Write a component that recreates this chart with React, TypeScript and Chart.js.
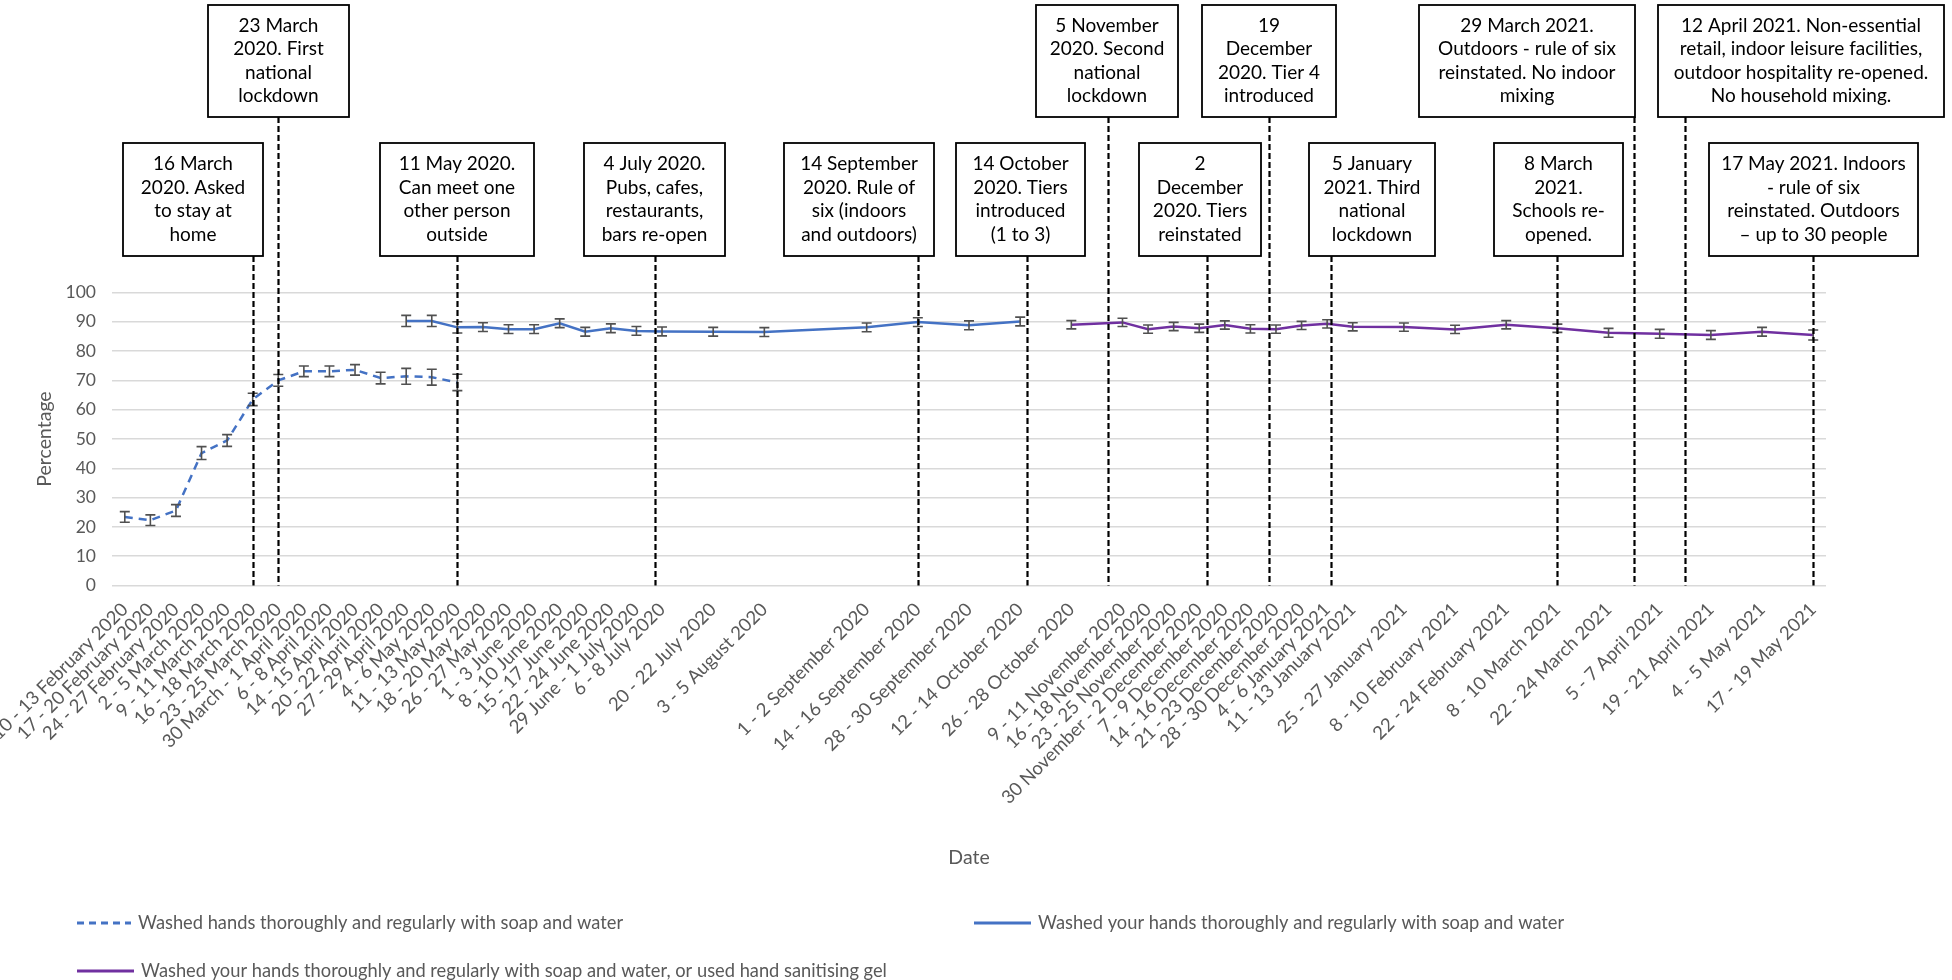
import React, { useEffect, useRef } from 'react';
import { Chart, registerables } from 'chart.js';

Chart.register(...registerables);
Chart.defaults.font.family = 'Lato, "Open Sans", sans-serif';

// ---------- DATA ----------
const xLabels: string[] = [
  '10 - 13 February 2020', '17 - 20 February 2020', '24 - 27 February 2020', '2 - 5 March 2020',
  '9 - 11 March 2020', '16 - 18 March 2020', '23 - 25 March 2020', '30 March - 1 April 2020',
  '6 - 8 April 2020', '14 - 15 April 2020', '20 - 22 April 2020', '27 - 29 April 2020',
  '4 - 6 May 2020', '11 - 13 May 2020', '18 - 20 May 2020', '26 - 27 May 2020',
  '1 - 3 June 2020', '8 - 10 June 2020', '15 - 17 June 2020', '22 - 24 June 2020',
  '29 June - 1 July 2020', '6 - 8 July 2020', '20 - 22 July 2020', '3 - 5 August 2020',
  '1 - 2 September 2020', '14 - 16 September 2020', '28 - 30 September 2020', '12 - 14 October 2020',
  '26 - 28 October 2020', '9 - 11 November 2020', '16 - 18 November 2020', '23 - 25 November 2020',
  '30 November - 2 December 2020', '7 - 9 December 2020', '14 - 16 December 2020', '21 - 23 December 2020',
  '28 - 30 December 2020', '4 - 6 January 2021', '11 - 13 January 2021', '25 - 27 January 2021',
  '8 - 10 February 2021', '22 - 24 February 2021', '8 - 10 March 2021', '22 - 24 March 2021',
  '5 - 7 April 2021', '19 - 21 April 2021', '4 - 5 May 2021', '17 - 19 May 2021',
];

// x value of each survey wave: weeks since the week of 10 February 2020
const weekIndex: number[] = [
  0, 1, 2, 3, 4, 5, 6, 7, 8, 9, 10, 11, 12, 13, 14, 15, 16, 17, 18, 19, 20, 21,
  23, 25, 29, 31, 33, 35, 37, 39, 40, 41, 42, 43, 44, 45, 46, 47, 48,
  50, 52, 54, 56, 58, 60, 62, 64, 66,
];

const N = null;
const seriesNames: string[] = [
  'Washed hands thoroughly and regularly with soap and water',
  'Washed your hands thoroughly and regularly with soap and water',
  'Washed your hands thoroughly and regularly with soap and water, or used hand sanitising gel',
];

const washedHands: (number | null)[] = [
  23.4, 22.3, 25.6, 45.2, 49.5, 63.5, 70.0, 73.1, 73.1, 73.6, 70.8, 71.4, 71.1, 69.3,
  N, N, N, N, N, N, N, N, N, N, N, N, N, N, N, N, N, N, N, N, N, N, N, N, N, N, N, N, N, N, N, N, N, N,
];
const washedHandsErr: (number | null)[] = [
  1.8, 1.8, 2.0, 2.2, 2.0, 2.1, 2.0, 1.8, 1.8, 1.8, 2.0, 2.7, 2.7, 2.8,
  N, N, N, N, N, N, N, N, N, N, N, N, N, N, N, N, N, N, N, N, N, N, N, N, N, N, N, N, N, N, N, N, N, N,
];

const washedYourHands: (number | null)[] = [
  N, N, N, N, N, N, N, N, N, N, N,
  90.3, 90.3, 88.1, 88.2, 87.5, 87.5, 89.5, 86.6, 87.8, 86.9, 86.7, 86.6, 86.5, 88.1, 89.9, 88.8, 90.1,
  N, N, N, N, N, N, N, N, N, N, N, N, N, N, N, N, N, N, N, N,
];
const washedYourHandsErr: (number | null)[] = [
  N, N, N, N, N, N, N, N, N, N, N,
  1.9, 1.9, 1.9, 1.5, 1.5, 1.5, 1.5, 1.5, 1.5, 1.5, 1.5, 1.5, 1.5, 1.5, 1.5, 1.5, 1.5,
  N, N, N, N, N, N, N, N, N, N, N, N, N, N, N, N, N, N, N, N,
];

const washedOrGel: (number | null)[] = [
  N, N, N, N, N, N, N, N, N, N, N, N, N, N, N, N, N, N, N, N, N, N, N, N, N, N, N, N,
  89.0, 89.8, 87.5, 88.4, 87.8, 88.9, 87.6, 87.5, 88.75, 89.3, 88.3, 88.2, 87.4, 89.0, 87.8, 86.25, 85.9, 85.5, 86.6, 85.5,
];
const washedOrGelErr: (number | null)[] = [
  N, N, N, N, N, N, N, N, N, N, N, N, N, N, N, N, N, N, N, N, N, N, N, N, N, N, N, N,
  1.4, 1.4, 1.4, 1.4, 1.4, 1.4, 1.4, 1.4, 1.4, 1.4, 1.4, 1.4, 1.4, 1.4, 1.4, 1.5, 1.5, 1.5, 1.5, 1.7,
];

const yTicks = { min: 0, max: 100, step: 10 };

// events (policy changes)
const eventDates: string[] = [
  '2020-03-16', '2020-03-23', '2020-05-11', '2020-07-04', '2020-09-14', '2020-10-14', '2020-11-05',
  '2020-12-02', '2020-12-19', '2021-01-05', '2021-03-08', '2021-03-29', '2021-04-12', '2021-05-17',
];
const eventTexts: string[][] = [
  ['16 March', '2020. Asked', 'to stay at', 'home'],
  ['23 March', '2020. First', 'national', 'lockdown'],
  ['11 May 2020.', 'Can meet one', 'other person', 'outside'],
  ['4 July 2020.', 'Pubs, cafes,', 'restaurants,', 'bars re-open'],
  ['14 September', '2020. Rule of', 'six (indoors', 'and outdoors)'],
  ['14 October', '2020. Tiers', 'introduced', '(1 to 3)'],
  ['5 November', '2020. Second', 'national', 'lockdown'],
  ['2', 'December', '2020. Tiers', 'reinstated'],
  ['19', 'December', '2020. Tier 4', 'introduced'],
  ['5 January', '2021. Third', 'national', 'lockdown'],
  ['8 March', '2021.', 'Schools re-', 'opened.'],
  ['29 March 2021.', 'Outdoors - rule of six', 'reinstated. No indoor', 'mixing'],
  ['12 April 2021. Non-essential', 'retail, indoor leisure facilities,', 'outdoor hospitality re-opened.', 'No household mixing.'],
  ['17 May 2021. Indoors', '- rule of six', 'reinstated. Outdoors', '\u2013 up to 30 people'],
];
const seriesStart = '2020-02-10';

// ---------- LAYOUT / STYLE (not data) ----------
const W = 1952;
const H = 980;
const AREA = { left: 112, right: 1826, top: 292.5, bottom: 585.5 };
const PAD_LEFT = 33;
const PAD_BOTTOM = 111;
const ROWS = [{ top: 5, bottom: 117 }, { top: 143, bottom: 256 }];
const eventBoxes: { l: number; r: number; row: number }[] = [
  { l: 123, r: 263, row: 1 },
  { l: 208, r: 349, row: 0 },
  { l: 380, r: 534, row: 1 },
  { l: 584, r: 725, row: 1 },
  { l: 784, r: 934, row: 1 },
  { l: 956, r: 1085, row: 1 },
  { l: 1036, r: 1178, row: 0 },
  { l: 1139, r: 1261, row: 1 },
  { l: 1202, r: 1336, row: 0 },
  { l: 1309, r: 1435, row: 1 },
  { l: 1494, r: 1623, row: 1 },
  { l: 1419, r: 1635, row: 0 },
  { l: 1658, r: 1944, row: 0 },
  { l: 1709, r: 1918, row: 1 },
];
const BLUE = '#4472C4';
const PURPLE = '#7030A0';
const GREY_TEXT = '#595959';
const BOX_FONT = '19px Lato';
const LEGEND_FONT = '18.3px Lato';
const legendLayout = [
  { x: 77, y: 923, len: 54, color: BLUE, dash: [7, 5] },
  { x: 974, y: 923, len: 57, color: BLUE, dash: [] as number[] },
  { x: 77, y: 971, len: 57, color: PURPLE, dash: [] as number[] },
];

const DAY = 86400000;
const weekOf = (iso: string) => (Date.parse(iso) - Date.parse(seriesStart)) / (7 * DAY);
const labelByWeek = new Map<number, string>(weekIndex.map((w, i) => [w, xLabels[i]]));

function toPoints(values: (number | null)[], errs: (number | null)[]) {
  const pts: { x: number; y: number; err: number }[] = [];
  values.forEach((v, i) => {
    if (v !== null) pts.push({ x: weekIndex[i], y: v, err: (errs[i] ?? 0) as number });
  });
  return pts;
}

const overlayPlugin = {
  id: 'overlay',
  afterDatasetsDraw(chart: any) {
    const { ctx } = chart;
    const xs = chart.scales.x;
    const ys = chart.scales.y;
    ctx.save();
    ctx.strokeStyle = '#505050';
    ctx.lineWidth = 1.6;
    ctx.setLineDash([]);
    chart.data.datasets.forEach((ds: any) => {
      ds.data.forEach((p: any) => {
        const x = xs.getPixelForValue(p.x);
        const y1 = ys.getPixelForValue(p.y - p.err);
        const y2 = ys.getPixelForValue(p.y + p.err);
        ctx.beginPath();
        ctx.moveTo(x, y1);
        ctx.lineTo(x, y2);
        ctx.moveTo(x - 5, y1);
        ctx.lineTo(x + 5, y1);
        ctx.moveTo(x - 5, y2);
        ctx.lineTo(x + 5, y2);
        ctx.stroke();
      });
    });
    ctx.restore();
  },
  afterDraw(chart: any) {
    const { ctx, chartArea } = chart;
    const xs = chart.scales.x;
    ctx.save();
    // event lines
    eventDates.forEach((d, i) => {
      const x = Math.round(xs.getPixelForValue(weekOf(d))) + 0.5;
      const row = ROWS[eventBoxes[i].row];
      ctx.strokeStyle = '#000000';
      ctx.lineWidth = 2.2;
      ctx.setLineDash([6, 3]);
      ctx.beginPath();
      ctx.moveTo(x, row.bottom);
      ctx.lineTo(x, chartArea.bottom);
      ctx.stroke();
    });
    // boxes
    ctx.setLineDash([]);
    eventDates.forEach((_, i) => {
      const b = eventBoxes[i];
      const row = ROWS[b.row];
      ctx.fillStyle = '#ffffff';
      ctx.fillRect(b.l, row.top, b.r - b.l, row.bottom - row.top);
      ctx.strokeStyle = '#000000';
      ctx.lineWidth = 1.8;
      ctx.strokeRect(b.l, row.top, b.r - b.l, row.bottom - row.top);
      const lines = eventTexts[i];
      const cx = (b.l + b.r) / 2;
      const cy = (row.top + row.bottom) / 2;
      const lh = 23.5;
      ctx.fillStyle = '#000000';
      ctx.font = BOX_FONT;
      ctx.textAlign = 'center';
      ctx.textBaseline = 'middle';
      lines.forEach((t, k) => {
        ctx.fillText(t, cx, cy + (k - (lines.length - 1) / 2) * lh);
      });
    });
    // legend
    legendLayout.forEach((it, i) => {
      ctx.strokeStyle = it.color;
      ctx.lineWidth = 3;
      ctx.setLineDash(it.dash);
      ctx.beginPath();
      ctx.moveTo(it.x, it.y);
      ctx.lineTo(it.x + it.len, it.y);
      ctx.stroke();
      ctx.setLineDash([]);
      ctx.fillStyle = GREY_TEXT;
      ctx.font = LEGEND_FONT;
      ctx.textAlign = 'left';
      ctx.textBaseline = 'middle';
      ctx.fillText(seriesNames[i], it.x + it.len + 7, it.y);
    });
    ctx.restore();
  },
};

export default function App() {
  const ref = useRef<HTMLCanvasElement>(null);
  useEffect(() => {
    const canvas = ref.current;
    if (!canvas) return;
    const chart = new Chart(canvas, {
      type: 'line',
      data: {
        datasets: [
          {
            label: seriesNames[0],
            data: toPoints(washedHands, washedHandsErr),
            borderColor: BLUE,
            backgroundColor: BLUE,
            borderWidth: 2.5,
            borderDash: [8, 6],
            pointRadius: 0,
            tension: 0,
            fill: false,
          },
          {
            label: seriesNames[1],
            data: toPoints(washedYourHands, washedYourHandsErr),
            borderColor: BLUE,
            backgroundColor: BLUE,
            borderWidth: 2.5,
            pointRadius: 0,
            tension: 0,
            fill: false,
          },
          {
            label: seriesNames[2],
            data: toPoints(washedOrGel, washedOrGelErr),
            borderColor: PURPLE,
            backgroundColor: PURPLE,
            borderWidth: 2.5,
            pointRadius: 0,
            tension: 0,
            fill: false,
          },
        ],
      },
      options: {
        responsive: false,
        animation: false,
        devicePixelRatio: 1,
        parsing: false as any,
        layout: {
          padding: { top: AREA.top, right: W - AREA.right, bottom: PAD_BOTTOM, left: PAD_LEFT },
        },
        plugins: {
          legend: { display: false },
          tooltip: { enabled: false },
        },
        scales: {
          x: {
            type: 'linear',
            min: -0.5,
            max: 66.5,
            bounds: 'data',
            afterBuildTicks: (s: any) => {
              s.ticks = weekIndex.map((v) => ({ value: v }));
            },
            afterFit: (s: any) => {
              s.height = H - PAD_BOTTOM - AREA.bottom;
              s.paddingLeft = 0;
              s.paddingRight = 0;
            },
            grid: { display: false, drawTicks: false },
            border: { display: false },
            ticks: {
              autoSkip: false,
              minRotation: 45,
              maxRotation: 45,
              padding: 13,
              color: GREY_TEXT,
              font: { size: 18.5 },
              callback: (v: any) => labelByWeek.get(Number(v)) ?? '',
            },
            title: { display: true, text: 'Date', color: GREY_TEXT, font: { size: 19.5 }, padding: 0 },
          },
          y: {
            min: yTicks.min,
            max: yTicks.max,
            afterFit: (s: any) => {
              s.width = AREA.left - PAD_LEFT;
            },
            ticks: { stepSize: yTicks.step, padding: 16, color: GREY_TEXT, font: { size: 17.5 } },
            grid: { color: '#d9d9d9', lineWidth: 1.5, drawTicks: false },
            border: { display: false },
            title: { display: true, text: 'Percentage', color: GREY_TEXT, font: { size: 19.5 }, padding: 0 },
          },
        },
      } as any,
      plugins: [overlayPlugin],
    });
    return () => chart.destroy();
  }, []);
  return (
    <div style={{ position: 'fixed', left: 0, top: 0, width: W, height: H, background: '#ffffff' }}>
      <canvas ref={ref} width={W} height={H} style={{ display: 'block', width: W, height: H }} />
    </div>
  );
}
